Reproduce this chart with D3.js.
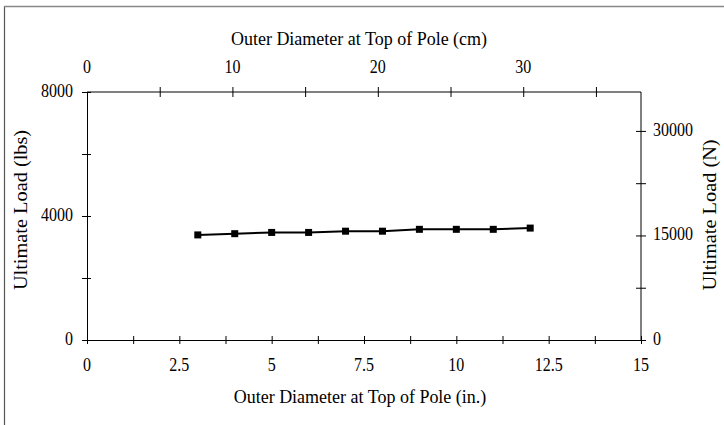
<!DOCTYPE html>
<html><head><meta charset="utf-8">
<script src="https://cdn.jsdelivr.net/npm/d3@7"></script>
<style>body{margin:0;background:#fff}svg{display:block}text{font-family:"Liberation Serif","Times New Roman",serif;fill:#000}</style>
</head><body><svg id="c" width="724" height="425"></svg>
<script>
const diamIn = [3,4,5,6,7,8,9,10,11,12];
const loadLbs = [3390,3430,3470,3470,3510,3510,3570,3570,3570,3610];
const xTickLabels = [0,2.5,5,7.5,10,12.5,15];
const topTickLabels = [0,10,20,30];
const yTickLabels = [0,4000,8000];
const rightTickLabels = [0,15000,30000];

const svg = d3.select("#c");
const L=87,R=641,T=92,B=340;
const x = d3.scaleLinear().domain([0,15]).range([L,R]);
const xcm = d3.scaleLinear().domain([0,15*2.54]).range([L,R]);
const y = d3.scaleLinear().domain([0,8000]).range([B,T]);
const yN = d3.scaleLinear().domain([0,8000*4.448]).range([B,T]);

// outer frame (left + top)
svg.append("line").attr("x1",4.5).attr("x2",4.5).attr("y1",6).attr("y2",425).attr("stroke","#555").attr("stroke-width",1.2);
svg.append("line").attr("x1",4).attr("x2",724).attr("y1",6.5).attr("y2",6.5).attr("stroke","#888").attr("stroke-width",1.5);

function txt(g, px, py, s, size, sy, anchor){
  return g.append("text").attr("transform",`translate(${px},${py}) scale(1,${sy})`)
    .attr("text-anchor",anchor).attr("font-size",size).text(s);
}
function styleAxis(g){g.select(".domain").attr("stroke","#000").attr("stroke-width",1);g.selectAll(".tick line").attr("stroke","#000");}

const fs=16, fsy=1.13;

// bottom axis
const bAx = svg.append("g").attr("transform",`translate(0,${B})`)
  .call(d3.axisBottom(x).tickValues(d3.range(0,15.01,1.25)).tickSize(0).tickFormat(""));
bAx.selectAll(".tick line").attr("y1",-4).attr("y2",4);
styleAxis(bAx);
const bl = svg.append("g");
xTickLabels.forEach(d=>txt(bl, x(d), B+31, d, fs, fsy, "middle"));

// top axis
const tAx = svg.append("g").attr("transform",`translate(0,${T})`)
  .call(d3.axisTop(xcm).tickValues(d3.range(5,36,5)).tickSize(0).tickFormat(""));
tAx.selectAll(".tick line").attr("y1",-5).attr("y2",5);
styleAxis(tAx);
tAx.select(".domain").attr("d",`M${L},0H${R}`);
const tl = svg.append("g");
topTickLabels.forEach(d=>txt(tl, xcm(d), T-19, d, fs, fsy, "middle"));

// left axis
const lAx = svg.append("g").attr("transform",`translate(${L},0)`)
  .call(d3.axisLeft(y).tickValues(d3.range(0,8001,2000)).tickSize(0).tickFormat(""));
lAx.selectAll(".tick line").attr("x1",-5).attr("x2",4);
styleAxis(lAx);
const ll = svg.append("g");
yTickLabels.forEach(d=>txt(ll, L-14, y(d)+5, d, fs, fsy, "end"));

// right axis
const rAx = svg.append("g").attr("transform",`translate(${R},0)`)
  .call(d3.axisRight(yN).tickValues(d3.range(0,30001,7500)).tickSize(0).tickFormat(""));
rAx.selectAll(".tick line").attr("x1",-5).attr("x2",5);
styleAxis(rAx);
rAx.select(".domain").attr("d",`M0,${T}V${B}`);
const rl = svg.append("g");
rightTickLabels.forEach(d=>txt(rl, R+12, yN(d)+5, d, fs, fsy, "start"));

// titles
txt(svg, 359, 45, "Outer Diameter at Top of Pole (cm)", 18, 1.08, "middle");
txt(svg, 360, 403, "Outer Diameter at Top of Pole (in.)", 18, 1.08, "middle");
svg.append("text").attr("transform","translate(27,210) rotate(-90) scale(1.13,1)").attr("text-anchor","middle").attr("font-size",18).text("Ultimate Load (lbs)");
svg.append("text").attr("transform","translate(716,215) rotate(-90) scale(1.13,1)").attr("text-anchor","middle").attr("font-size",18).text("Ultimate Load (N)");

// series
const pts = diamIn.map((d,i)=>[d,loadLbs[i]]);
svg.append("path").datum(pts).attr("fill","none").attr("stroke","#000").attr("stroke-width",2)
  .attr("d",d3.line().x(d=>x(d[0])).y(d=>y(d[1])));
svg.append("g").selectAll("rect").data(pts).join("rect")
  .attr("x",d=>x(d[0])-3.5).attr("y",d=>y(d[1])-3.5).attr("width",7).attr("height",7).attr("fill","#000");
</script></body></html>
